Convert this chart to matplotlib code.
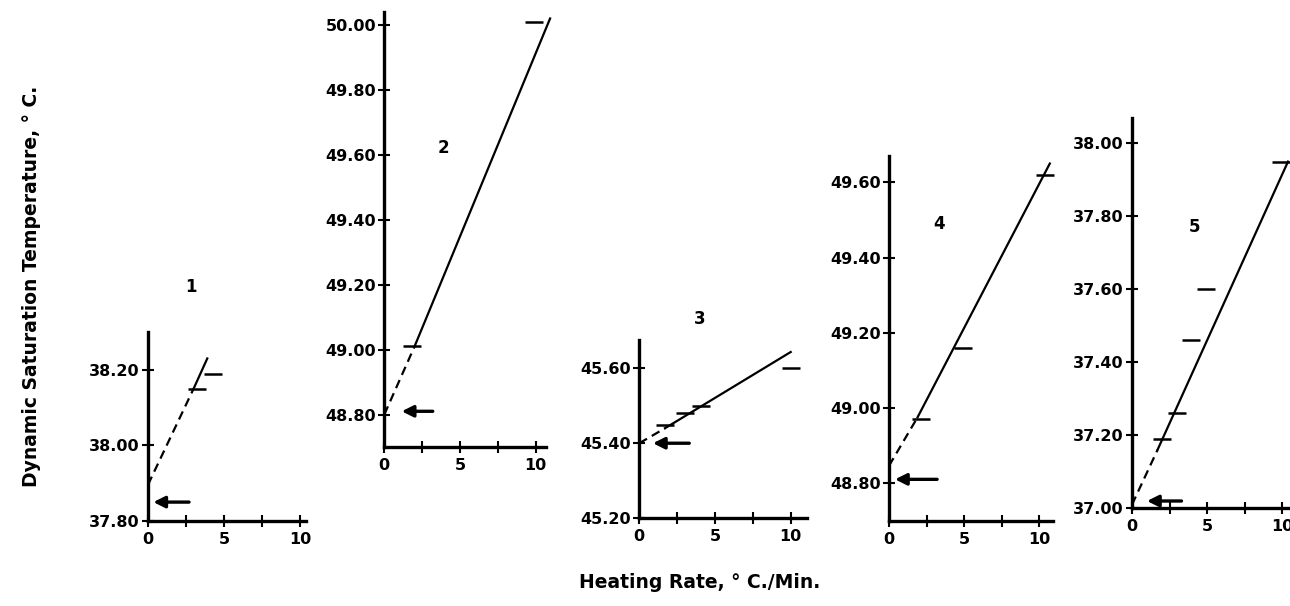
import matplotlib
matplotlib.use("Agg")
import matplotlib.pyplot as plt
import numpy as np

plt.rcParams["font.family"] = ["DejaVu Sans"]
plt.rcParams["font.weight"] = "bold"

# Curve numbers
panel_ids = ["1", "2", "3", "4", "5"]

# Measured points (horizontal dashes): heating rate, saturation temperature
pts_x = [[3.2, 4.3],
         [1.8, 9.9],
         [1.7, 3.0, 4.1, 10.0],
         [2.1, 4.9, 10.4],
         [2.0, 3.0, 3.9, 4.9, 9.9]]
pts_y = [[38.15, 38.19],
         [49.01, 50.01],
         [45.448, 45.48, 45.50, 45.60],
         [48.97, 49.16, 49.62],
         [37.19, 37.26, 37.46, 37.60, 37.95]]

# Fitted line: intercept at 0, start of solid part, end of solid part
line_x = [[0, 3.0, 3.9],
          [0, 2.0, 10.95],
          [0, 1.7, 10.0],
          [0, 1.9, 10.7],
          [0, 1.7, 10.4]]
line_y = [[37.896, 38.15, 38.23],
          [48.80, 49.01, 50.02],
          [45.40, 45.44, 45.643],
          [48.846, 48.975, 49.65],
          [37.01, 37.16, 37.95]]

# Static saturation temperature (arrows)
arrow_y = [37.85, 48.81, 45.40, 48.81, 37.02]
arrow_x0 = [0.35, 1.15, 0.9, 0.4, 1.0]
arrow_x1 = [2.7, 3.2, 3.3, 3.2, 3.3]

# Curve number label positions
id_x = [2.8, 3.9, 4.0, 3.3, 4.2]
id_y = [38.42, 49.62, 45.73, 49.49, 37.77]

# Axis ranges and ticks
y_lo = [37.80, 48.70, 45.20, 48.70, 37.00]
y_hi = [38.30, 50.04, 45.675, 49.67, 38.07]
x_hi = [10.4, 10.7, 11.1, 10.9, 10.5]
yticks = [[37.80, 38.00, 38.20],
          [48.80, 49.00, 49.20, 49.40, 49.60, 49.80, 50.00],
          [45.20, 45.40, 45.60],
          [48.80, 49.00, 49.20, 49.40, 49.60],
          [37.00, 37.20, 37.40, 37.60, 37.80, 38.00]]

W, H = 1290, 606
fig = plt.figure(figsize=(W / 100, H / 100), dpi=100)

# panel boxes in pixels: left, px per x unit, top, bottom
lefts = [148, 384.3, 639.3, 889, 1132]
xscale = [15.2, 15.14, 15.14, 15.03, 15.0]
tops = [332, 12, 340, 156, 117.8]
bottoms = [521, 447, 518.3, 520.7, 508.3]

for i in range(5):
    right = lefts[i] + x_hi[i] * xscale[i]
    ax = fig.add_axes([lefts[i] / W, 1 - bottoms[i] / H,
                       (right - lefts[i]) / W, (bottoms[i] - tops[i]) / H])
    ax.set_xlim(0, x_hi[i])
    ax.set_ylim(y_lo[i], y_hi[i])
    for s in ["top", "right"]:
        ax.spines[s].set_visible(False)
    for s in ["left", "bottom"]:
        ax.spines[s].set_linewidth(2.4)

    ax.set_xticks([0, 5, 10])
    ax.set_xticklabels(["0", "5", "10"])
    ax.set_xticks([2.5, 7.5], minor=True)
    ax.set_yticks(yticks[i])
    ax.set_yticklabels(["%.2f" % v for v in yticks[i]])
    ax.tick_params(which="both", direction="inout", length=8, width=1.5,
                   labelsize=11.5, pad=2)
    ax.tick_params(axis="x", pad=4)

    lx, ly = line_x[i], line_y[i]
    ax.plot(lx[:2], ly[:2], color="black", lw=1.6, ls=(0, (4, 2.5)), clip_on=False)
    ax.plot(lx[1:], ly[1:], color="black", lw=1.6, clip_on=False)
    ax.plot(pts_x[i], pts_y[i], ls="none", marker="_", ms=13, mew=1.8,
            color="black", clip_on=False)

    ax.annotate("", xy=(arrow_x0[i], arrow_y[i]), xytext=(arrow_x1[i], arrow_y[i]),
                arrowprops=dict(arrowstyle="-|>", lw=2.4, color="black",
                                mutation_scale=17, shrinkA=0, shrinkB=0))
    ax.text(id_x[i], id_y[i], panel_ids[i], fontsize=12, fontweight="bold",
            ha="center", va="center", clip_on=False)

fig.text(32 / W, 1 - 286 / H, "Dynamic Saturation Temperature, ° C.",
         rotation=90, ha="center", va="center", fontsize=13.5, fontweight="bold")
fig.text(700 / W, 1 - 583 / H, "Heating Rate, ° C./Min.",
         ha="center", va="center", fontsize=13.5, fontweight="bold")

fig.savefig("out.png", dpi=100)
